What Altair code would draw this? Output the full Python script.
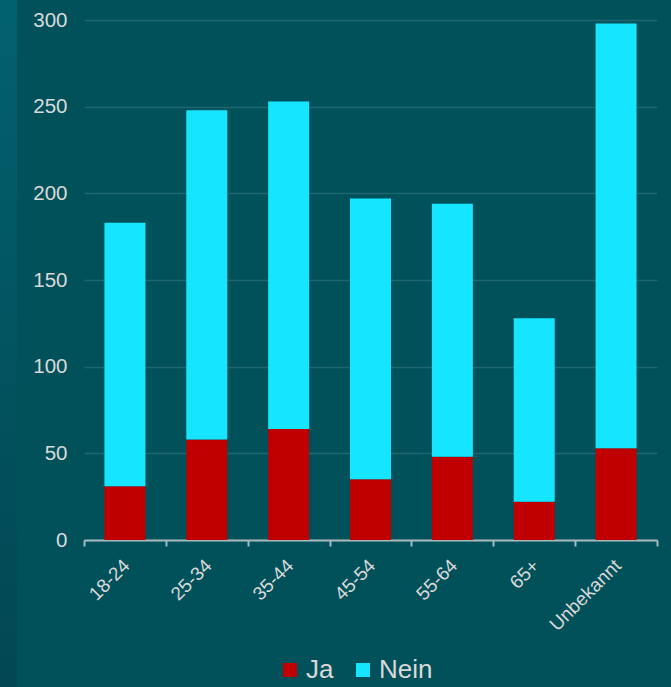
import altair as alt
import pandas as pd

categories = ["18-24", "25-34", "35-44", "45-54", "55-64", "65+", "Unbekannt"]
ja = [31, 58, 64, 35, 48, 22, 53]
nein = [152, 190, 189, 162, 146, 106, 245]
series = ["Ja", "Nein"]
colors = ["#C00000", "#15E5FF"]

rows = []
for c, a, b in zip(categories, ja, nein):
    rows.append({"Kategorie": c, "Serie": "Ja", "Wert": a, "Ordnung": 0})
    rows.append({"Kategorie": c, "Serie": "Nein", "Wert": b, "Ordnung": 1})
df = pd.DataFrame(rows)

FONT = "Liberation Sans"
TXT = "#D9D9D9"

strip = alt.Chart(pd.DataFrame({"k": [0]})).mark_rect(
    color=alt.LinearGradient(
        gradient="linear", x1=0, y1=0, x2=0, y2=1,
        stops=[alt.GradientStop(color="#02616F", offset=0),
               alt.GradientStop(color="#024752", offset=1)]),
    clip=False,
).encode(x=alt.value(-84), x2=alt.value(-67), y=alt.value(-20), y2=alt.value(667))

bars = alt.Chart(df).mark_bar(size=41).encode(
    x=alt.X("Kategorie:N", sort=categories, title=None,
            scale=alt.Scale(paddingInner=0, paddingOuter=0),
            axis=alt.Axis(labelAngle=-45, labelFontSize=19, labelColor=TXT, labelFont=FONT,
                          domainColor="#A9B9BD", domainWidth=2, tickColor="#A9B9BD",
                          tickWidth=2, tickSize=6, tickBand="extent", labelPadding=10,
                          labelOffset=-5, grid=False)),
    y=alt.Y("Wert:Q", stack="zero", title=None,
            scale=alt.Scale(domain=[0, 300]),
            axis=alt.Axis(values=[0, 50, 100, 150, 200, 250, 300], labelFontSize=20.5,
                          labelColor=TXT, labelFont=FONT, domain=False, ticks=False,
                          labelPadding=17, gridColor="#1E6771", gridWidth=1.5)),
    color=alt.Color("Serie:N", scale=alt.Scale(domain=series, range=colors),
                    legend=alt.Legend(title=None, orient="none", direction="horizontal",
                                      legendX=193, legendY=637, symbolType="square",
                                      symbolSize=196, symbolStrokeWidth=0,
                                      labelFontSize=26, labelColor=TXT, labelFont=FONT,
                                      columnPadding=16, labelOffset=3)),
    order=alt.Order("Ordnung:Q"),
)

chart = alt.layer(strip, bars).properties(
    width=573, height=520,
    autosize=alt.AutoSizeParams(type="none"),
    padding={"left": 84, "top": 20, "right": 14, "bottom": 147},
    background="#01515B",
).configure_view(stroke=None)

chart.save("out.html", embed_options={"renderer": "svg", "actions": False})
